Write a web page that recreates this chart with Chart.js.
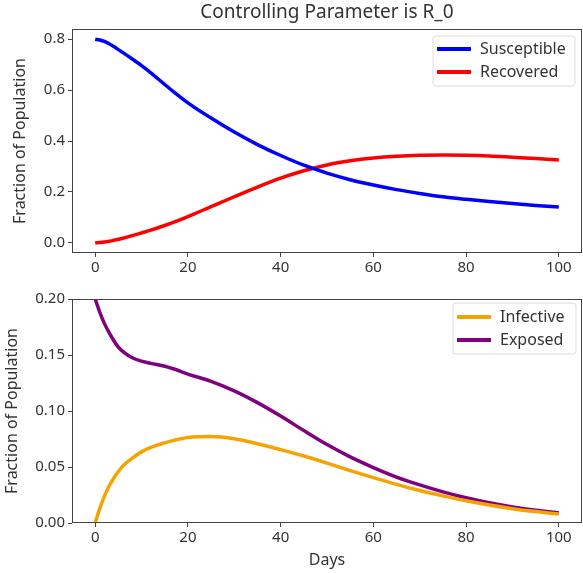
<!DOCTYPE html>
<html>
<head>
<meta charset="utf-8">
<script src="https://cdn.jsdelivr.net/npm/chart.js@4"></script>
<style>
  body { margin: 0; background: #fff; }
  canvas { display: block; }
</style>
</head>
<body>
<canvas id="top" width="583" height="285"></canvas>
<canvas id="bottom" width="583" height="288"></canvas>
<script>
// values
const days = [0, 1, 2, 3, 4, 5, 6, 8, 10, 12, 15, 17, 20, 25, 30, 35, 40, 45, 50, 55, 60, 65, 70, 75, 80, 85, 90, 95, 100];
const susceptible = [0.800, 0.797, 0.791, 0.782, 0.771, 0.759, 0.747, 0.722, 0.696, 0.668, 0.622, 0.592, 0.550, 0.490, 0.435, 0.386, 0.343, 0.305, 0.274, 0.248, 0.227, 0.209, 0.194, 0.181, 0.171, 0.162, 0.154, 0.147, 0.141];
const recovered = [0.000, 0.001, 0.003, 0.006, 0.010, 0.014, 0.018, 0.028, 0.039, 0.050, 0.068, 0.081, 0.103, 0.142, 0.181, 0.219, 0.254, 0.283, 0.306, 0.322, 0.333, 0.340, 0.344, 0.345, 0.344, 0.341, 0.336, 0.331, 0.325];
const infective = [0.000, 0.013, 0.024, 0.033, 0.040, 0.046, 0.051, 0.058, 0.0635, 0.0675, 0.0715, 0.0738, 0.0763, 0.0772, 0.0752, 0.0708, 0.0655, 0.0598, 0.0535, 0.0468, 0.0405, 0.0345, 0.0290, 0.0242, 0.0198, 0.0160, 0.0128, 0.0102, 0.0080];
const exposed = [0.200, 0.188, 0.178, 0.170, 0.163, 0.157, 0.153, 0.1475, 0.1445, 0.1425, 0.140, 0.1375, 0.133, 0.1265, 0.118, 0.1075, 0.0955, 0.0825, 0.070, 0.059, 0.0495, 0.041, 0.034, 0.0278, 0.0225, 0.018, 0.0143, 0.0113, 0.009];
const xTicks = [0, 20, 40, 60, 80, 100];

const FONT = "'Noto Sans', sans-serif";
const INK = '#333';

function pts(ys) {
  return days.map((d, i) => ({ x: d, y: ys[i] }));
}

function line(label, ys, color) {
  return {
    label: label,
    data: pts(ys),
    borderColor: color,
    backgroundColor: color,
    borderWidth: 3.5,
    pointRadius: 0,
    cubicInterpolationMode: 'monotone',
    fill: false,
  };
}

// axes frame, title and matplotlib-like legend box
const frame = {
  id: 'frame',
  afterDraw(chart, args, opts) {
    const ctx = chart.ctx;
    const a = chart.chartArea;
    ctx.save();
    ctx.strokeStyle = '#444';
    ctx.lineWidth = 1;
    ctx.strokeRect(a.left + 0.5, a.top + 0.5, a.right - a.left - 1, a.bottom - a.top - 1);

    if (opts.title) {
      ctx.fillStyle = INK;
      ctx.font = '19px ' + FONT;
      ctx.textAlign = 'center';
      ctx.textBaseline = 'middle';
      ctx.fillText(opts.title, (a.left + a.right) / 2, 13);
    }

    const lg = opts.legend;
    ctx.beginPath();
    ctx.roundRect(lg.x, lg.y, lg.w, lg.h, 3);
    ctx.fillStyle = 'rgba(255,255,255,0.85)';
    ctx.fill();
    ctx.strokeStyle = '#ddd';
    ctx.lineWidth = 1;
    ctx.stroke();
    ctx.font = '16px ' + FONT;
    ctx.textAlign = 'left';
    ctx.textBaseline = 'middle';
    chart.data.datasets.forEach((ds, i) => {
      const y = lg.y + lg.row0 + i * lg.rowGap;
      ctx.strokeStyle = ds.borderColor;
      ctx.lineWidth = 4;
      ctx.beginPath();
      ctx.moveTo(lg.x + 4, y);
      ctx.lineTo(lg.x + 38, y);
      ctx.stroke();
      ctx.fillStyle = INK;
      ctx.fillText(ds.label, lg.x + 47, y);
    });
    ctx.restore();
  }
};

function axes(yMin, yMax, yStep, yDigits, xHeight, xTitle, yTitlePad) {
  return {
    x: {
      type: 'linear',
      min: -5,
      max: 105,
      afterFit(s) { s.height = xHeight; },
      afterBuildTicks(s) { s.ticks = xTicks.map(v => ({ value: v })); },
      grid: { drawOnChartArea: false, drawTicks: true, tickLength: 4, color: '#444' },
      border: { display: false },
      ticks: { color: INK, font: { family: FONT, size: 15 }, padding: 2, maxRotation: 0 },
      title: {
        display: !!xTitle,
        text: xTitle,
        color: INK,
        font: { family: FONT, size: 16 },
        padding: { top: 0, bottom: 3 },
      },
    },
    y: {
      type: 'linear',
      min: yMin,
      max: yMax,
      afterFit(s) { s.width = 72; },
      grid: { drawOnChartArea: false, drawTicks: true, tickLength: 4, color: '#444' },
      border: { display: false },
      ticks: {
        color: INK,
        font: { family: FONT, size: 15 },
        padding: 3,
        stepSize: yStep,
        includeBounds: false,
        callback: v => v.toFixed(yDigits),
      },
      title: {
        display: true,
        text: 'Fraction of Population',
        color: INK,
        font: { family: FONT, size: 16 },
        padding: yTitlePad,
      },
    },
  };
}

new Chart(document.getElementById('top'), {
  type: 'line',
  data: {
    datasets: [
      line('Susceptible', susceptible, '#0000ff'),
      line('Recovered', recovered, '#ff0000'),
    ],
  },
  options: {
    responsive: false,
    animation: false,
    devicePixelRatio: 1,
    layout: { padding: { top: 29, right: 1, left: 0, bottom: 0 } },
    scales: axes(-0.04, 0.84, 0.2, 1, 32, '', { top: 11, bottom: 0 }),
    plugins: {
      legend: { display: false },
      tooltip: { enabled: false },
      frame: {
        title: 'Controlling Parameter is R_0',
        legend: { x: 433, y: 36, w: 142, h: 50, row0: 13, rowGap: 23 },
      },
    },
  },
  plugins: [frame],
});

new Chart(document.getElementById('bottom'), {
  type: 'line',
  data: {
    datasets: [
      line('Infective', infective, '#f5a300'),
      line('Exposed', exposed, '#800080'),
    ],
  },
  options: {
    responsive: false,
    animation: false,
    devicePixelRatio: 1,
    layout: { padding: { top: 14, right: 1, left: 0, bottom: 0 } },
    scales: axes(0, 0.2, 0.05, 2, 50, 'Days', { top: 3, bottom: 0 }),
    plugins: {
      legend: { display: false },
      tooltip: { enabled: false },
      frame: {
        legend: { x: 453, y: 18, w: 123, h: 51, row0: 14, rowGap: 23 },
      },
    },
  },
  plugins: [frame],
});
</script>
</body>
</html>
